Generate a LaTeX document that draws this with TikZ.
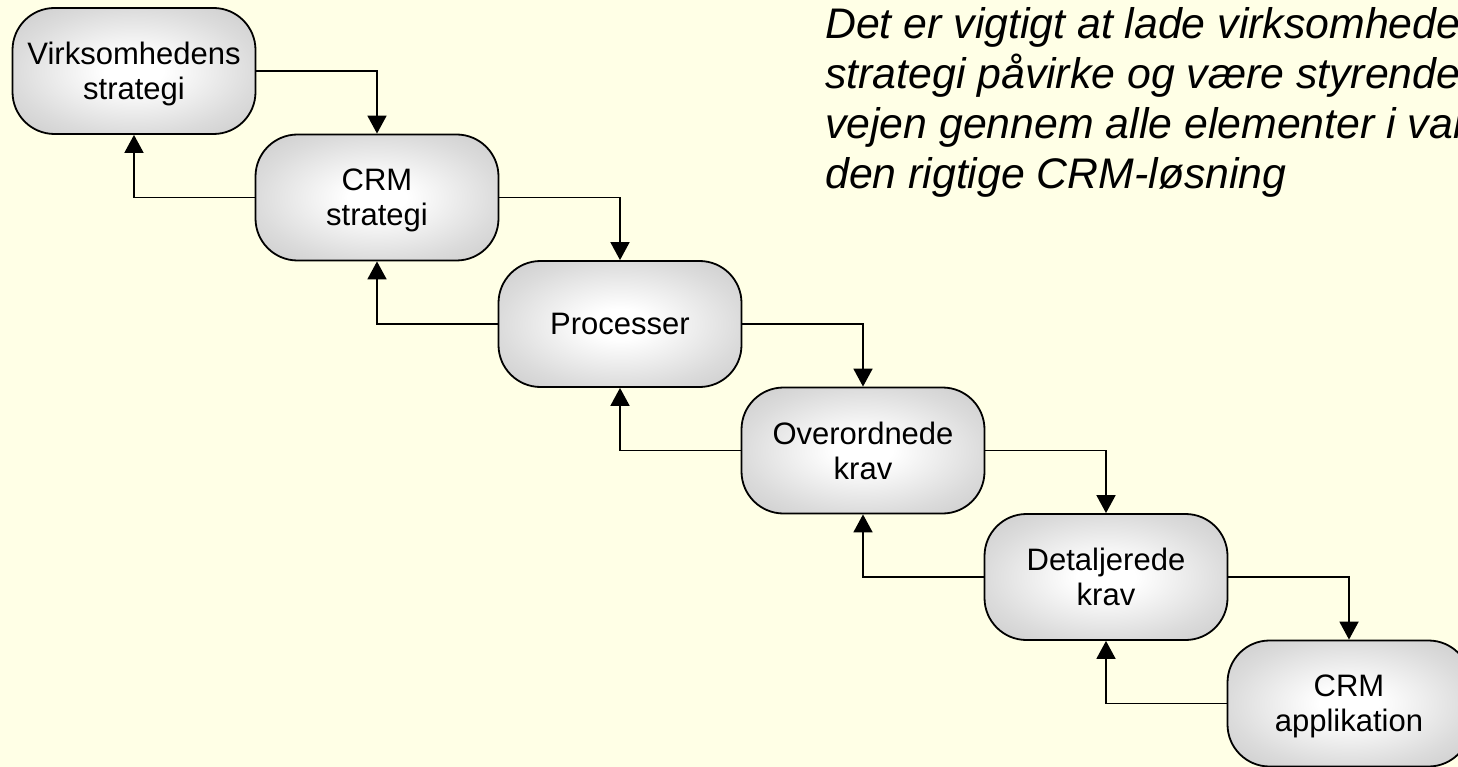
\documentclass[tikz,border=0pt]{standalone}
\usepackage{fontspec}
\setmainfont{Liberation Sans}
\usetikzlibrary{arrows.meta}
\definecolor{paper}{RGB}{255,255,230}
% soft glow from the middle of each stage box out to grey edges
\pgfdeclareradialshading{boxglow}{\pgfpoint{0bp}{0bp}}{%
  color(0bp)=(white); color(6bp)=(white);
  color(25bp)=(black!14); color(50bp)=(black!29); color(72bp)=(black!34)}
\begin{document}
\begin{tikzpicture}[x=1pt,y=-1pt,
  stage/.style={draw=black, line width=1.8pt, rounded corners=42pt,
    minimum width=243pt, minimum height=126pt, shade, shading=boxglow,
    align=center, font=\fontsize{31}{35}\selectfont, text depth=0pt,
    inner sep=0pt},
  link/.style={line width=1.8pt, -{Triangle[width=19pt,length=18pt]}},
  note/.style={anchor=north west, align=left, inner sep=0pt,
    font=\itshape\fontsize{42.8}{50}\selectfont}]
\useasboundingbox (0,0) rectangle (1458,767);
\fill[paper] (0,0) rectangle (1458,767);
\clip (0,0) rectangle (1458,767);

% the staircase of stages
\node[stage] (vs) at (134,71)    {Virksomhedens\\strategi};
\node[stage] (cs) at (377,197.5) {CRM\\strategi};
\node[stage] (pr) at (620,324)   {Processer};
\node[stage] (ok) at (863,450.5) {Overordnede\\krav};
\node[stage] (dk) at (1106,577)  {Detaljerede\\krav};
\node[stage] (ca) at (1349,703.5){CRM\\applikation};

% downward flow
\draw[link] (vs.east) -| (cs.north);
\draw[link] (cs.east) -| (pr.north);
\draw[link] (pr.east) -| (ok.north);
\draw[link] (ok.east) -| (dk.north);
\draw[link] (dk.east) -| (ca.north);

% feedback upward
\draw[link] (cs.west) -| (vs.south);
\draw[link] (pr.west) -| (cs.south);
\draw[link] (ok.west) -| (pr.south);
\draw[link] (dk.west) -| (ok.south);
\draw[link] (ca.west) -| (dk.south);

\node[note] (txt) at (825,7) {Det er vigtigt at lade virksomhede\\
strategi påvirke og være styrende\\
vejen gennem alle elementer i val\\
den rigtige CRM-løsning};
\end{tikzpicture}
\end{document}
